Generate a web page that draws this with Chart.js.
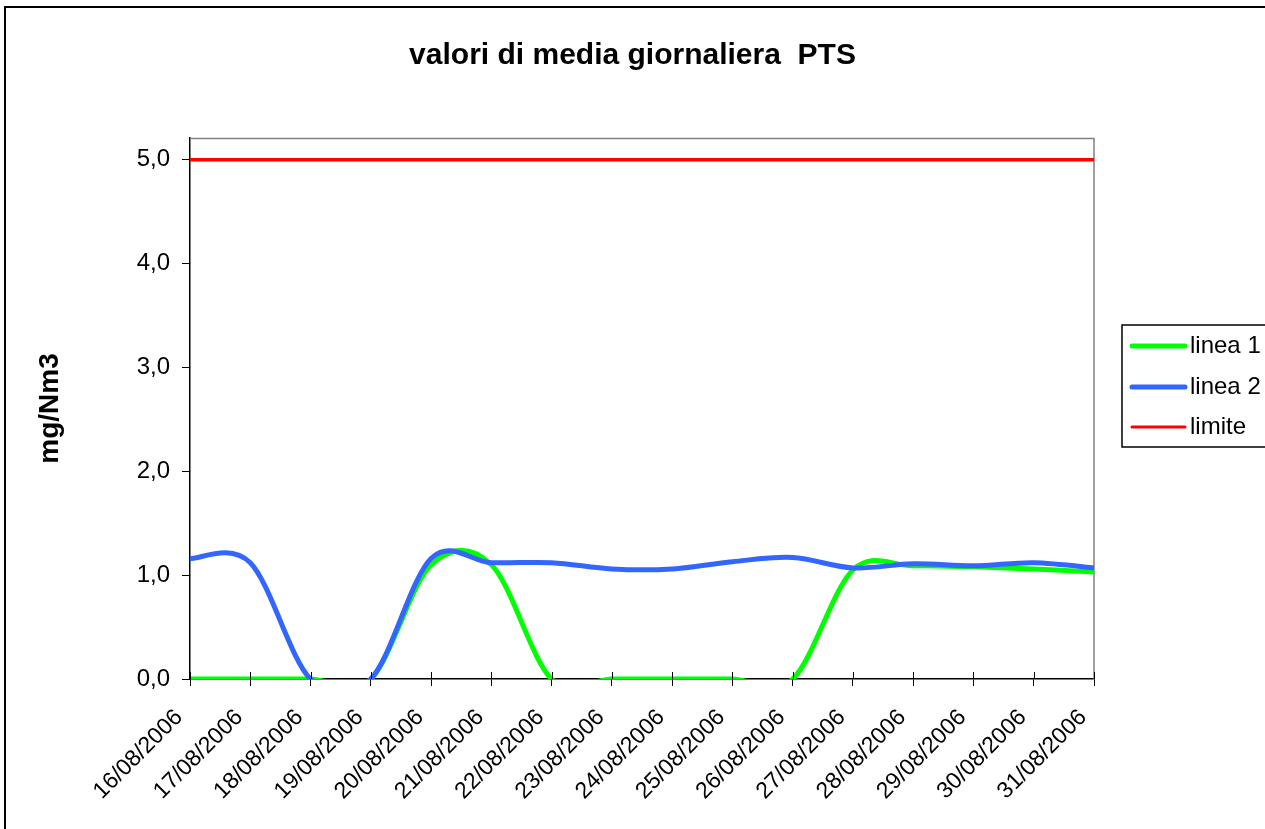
<!DOCTYPE html>
<html><head><meta charset="utf-8">
<script src="https://cdn.jsdelivr.net/npm/chart.js@4.4.1/dist/chart.umd.min.js"></script>
<style>html,body{margin:0;padding:0;background:#fff;overflow:hidden}#wrap{width:1265px;height:829px;position:relative}</style>
</head><body><div id="wrap"><canvas id="c" width="1265" height="829"></canvas></div>
<script>
const categories = ['16/08/2006','17/08/2006','18/08/2006','19/08/2006','20/08/2006','21/08/2006','22/08/2006','23/08/2006','24/08/2006','25/08/2006','26/08/2006','27/08/2006','28/08/2006','29/08/2006','30/08/2006','31/08/2006'];
const linea1 = [0, 0, 0, 0, 1.10, 1.10, 0, 0, 0, 0, 0, 1.05, 1.09, 1.08, 1.06, 1.03];
const linea2 = [1.16, 1.12, 0, 0, 1.16, 1.12, 1.12, 1.06, 1.06, 1.13, 1.17, 1.07, 1.11, 1.09, 1.12, 1.07];
const limite = [5, 5, 5, 5, 5, 5, 5, 5, 5, 5, 5, 5, 5, 5, 5, 5];
const yTickValues = [0, 1, 2, 3, 4, 5];
const titleText = 'valori di media giornaliera  PTS';
const yTitleText = 'mg/Nm3';

const FONT = "'Liberation Sans', Arial, sans-serif";

// Excel-like smoothing: Catmull-Rom control points (1/6 factor)
const excelSmooth = {
  id: 'excelSmooth',
  afterDatasetsUpdate(chart) {
    chart.data.datasets.forEach((ds, di) => {
      const meta = chart.getDatasetMeta(di);
      const pts = meta.data;
      const n = pts.length;
      for (let i = 0; i < n; i++) {
        const p = pts[i];
        const prev = pts[Math.max(0, i - 1)];
        const next = pts[Math.min(n - 1, i + 1)];
        const dx = (next.x - prev.x) / 6, dy = (next.y - prev.y) / 6;
        p.cp1x = p.x - dx; p.cp1y = p.y - dy;
        p.cp2x = p.x + dx; p.cp2y = p.y + dy;
      }
      if (meta.dataset) meta.dataset._pointsUpdated = true;
    });
  }
};

const framePlugin = {
  id: 'frame',
  beforeDatasetsDraw(chart) {
    const {ctx, chartArea: a} = chart;
    ctx.save();
    ctx.strokeStyle = '#808080';
    ctx.lineWidth = 1.5;
    ctx.beginPath();
    ctx.moveTo(a.left, a.top + 0.5);
    ctx.lineTo(a.right, a.top + 0.5);
    ctx.lineTo(a.right, a.bottom);
    ctx.stroke();
    ctx.restore();
  },
  afterDraw(chart) {
    const {ctx, chartArea: a, scales} = chart;
    ctx.save();
    ctx.strokeStyle = '#000';
    ctx.lineWidth = 1;
    const xs = scales.x;
    ctx.beginPath();
    for (let i = 0; i < categories.length; i++) {
      const x = Math.round(xs.getPixelForTick(i)) + 0.5;
      ctx.moveTo(x, a.bottom - 7);
      ctx.lineTo(x, a.bottom);
    }
    ctx.stroke();
    ctx.strokeStyle = '#000';
    ctx.lineWidth = 2;
    ctx.strokeRect(5, 7, 1400, 1000);
    ctx.restore();
  }
};

const legendPlugin = {
  id: 'boxLegend',
  afterDraw(chart) {
    const {ctx} = chart;
    ctx.save();
    ctx.fillStyle = '#fff';
    ctx.fillRect(1122, 325, 200, 122);
    ctx.strokeStyle = '#000';
    ctx.lineWidth = 1.5;
    ctx.strokeRect(1122, 325, 200, 122);
    const rows = [346, 387, 427];
    chart.data.datasets.forEach((ds, i) => {
      const y = rows[i];
      ctx.strokeStyle = ds.borderColor;
      ctx.lineWidth = ds.legendWidth;
      ctx.lineCap = 'round';
      ctx.beginPath();
      ctx.moveTo(1132, y);
      ctx.lineTo(1185, y);
      ctx.stroke();
      ctx.fillStyle = '#000';
      ctx.font = '24px ' + FONT;
      ctx.textBaseline = 'middle';
      ctx.textAlign = 'left';
      ctx.fillText(ds.label, 1190, y);
    });
    ctx.restore();
  }
};

new Chart(document.getElementById('c'), {
  type: 'line',
  data: {
    labels: categories,
    datasets: [
      {label: 'linea 1', data: linea1, borderColor: '#00ff00', borderWidth: 5, legendWidth: 5, order: 2},
      {label: 'linea 2', data: linea2, borderColor: '#3366ff', borderWidth: 5, legendWidth: 5, order: 1},
      {label: 'limite', data: limite, borderColor: '#ff0000', borderWidth: 3.5, legendWidth: 3, order: 0}
    ]
  },
  options: {
    responsive: false,
    devicePixelRatio: 1,
    animation: false,
    layout: {padding: {left: 0, right: 0, top: 0, bottom: 0}},
    elements: {
      point: {radius: 0, hoverRadius: 0},
      line: {tension: 0.33, capBezierPoints: false, fill: false, borderCapStyle: 'butt', borderJoinStyle: 'round'}
    },
    plugins: {
      legend: {display: false},
      tooltip: {enabled: false},
      title: {
        display: true,
        text: titleText,
        color: '#000',
        font: {family: FONT, size: 30, weight: 'bold', lineHeight: 1.2},
        padding: {top: 38, bottom: 64}
      }
    },
    scales: {
      x: {
        type: 'category',
        offset: false,
        grid: {display: true, drawOnChartArea: false, drawTicks: true, tickLength: 7, color: '#000', lineWidth: 1},
        border: {display: true, color: '#000', width: 1.5},
        ticks: {autoSkip: false, maxRotation: 45, minRotation: 45, color: '#000', font: {family: FONT, size: 23}, padding: 18, labelOffset: -11},
        afterFit(scale) { scale.height = 150; }
      },
      y: {
        min: 0,
        max: 5.21,
        grid: {display: true, drawOnChartArea: false, drawTicks: true, tickLength: 8, color: '#000', lineWidth: 1},
        border: {display: true, color: '#000', width: 1.5},
        afterBuildTicks(scale) { scale.ticks = yTickValues.map(v => ({value: v})); },
        ticks: {
          color: '#000', padding: 12, font: {family: FONT, size: 24},
          callback: (v) => Number(v).toFixed(1).replace('.', ',')
        },
        title: {display: true, text: yTitleText, color: '#000', font: {family: FONT, size: 28, weight: 'bold', lineHeight: 1.2}, padding: {top: 33, bottom: 0}},
        afterFit(scale) { scale.width = 190; }
      },
      yRight: {
        type: 'linear',
        position: 'right',
        display: true,
        grid: {display: false, drawTicks: false},
        border: {display: false},
        ticks: {display: false},
        afterFit(scale) { scale.width = 171; }
      }
    }
  },
  plugins: [excelSmooth, framePlugin, legendPlugin]
});
</script>
</body></html>
